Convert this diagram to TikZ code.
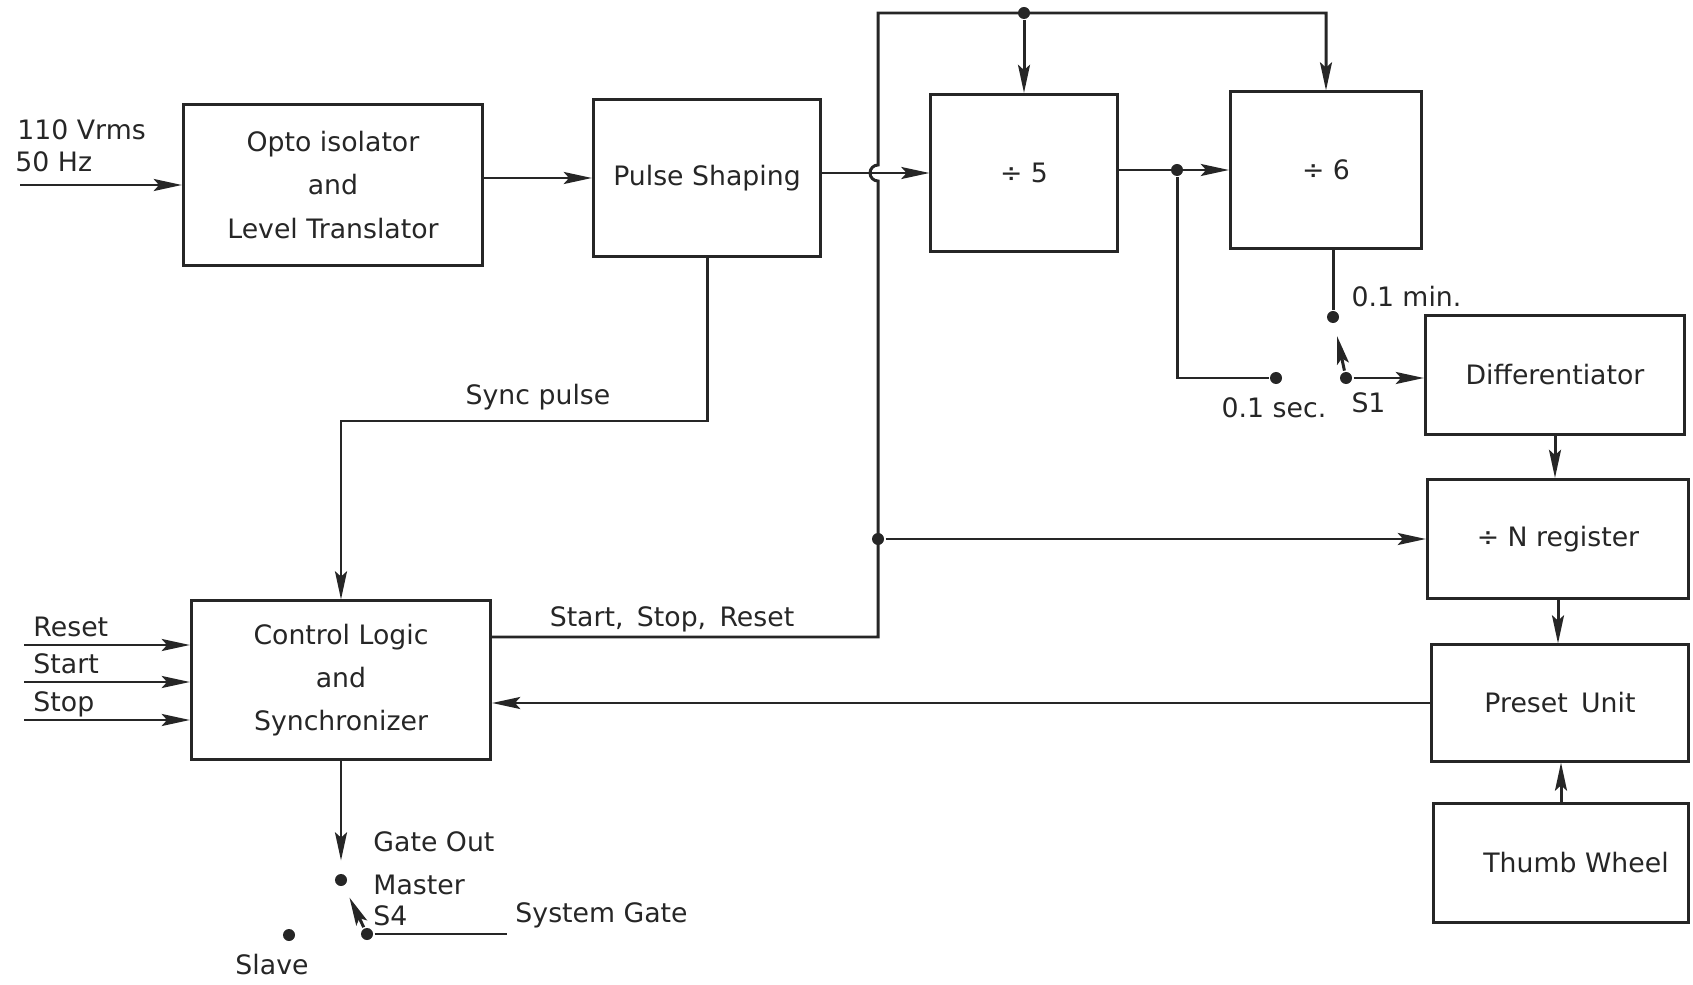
\documentclass[tikz,border=0pt]{standalone}
\usepackage{fontspec}
\setmainfont{DejaVu Sans}
\usetikzlibrary{arrows.meta, positioning, calc}

\tikzset{
	block/.style 2 args = {draw, rectangle, minimum width = #1, minimum height = #2, align = center, inner sep = 0pt},
	dot/.style = {circle, fill, inner sep = 0pt, minimum size = 1.2mm},
	lbl/.style = {inner sep = 0pt}
}

\begin{document}
\begin{tikzpicture}[->, > = {Stealth[length = 8pt, width = 3.4pt, inset = 1.5pt]}, x = 0.01cm, y = -0.01cm, line width = 0.85pt, color = black!85, font = \fontsize{7.6}{12.3}\selectfont]

\useasboundingbox (0,0) rectangle (1693,985);

% blocks
\node[block = {29.9mm}{16mm}]		(opto)		at (333,185)		{Opto isolator\\and\\Level Translator};
\node[block = {22.7mm}{15.7mm}]		(pulse)		at (707,178)		{Pulse Shaping};
\node[block = {18.6mm}{15.7mm}]		(div5)		at (1024,173)		{÷ 5};
\node[block = {19.1mm}{15.6mm}]		(div6)		at (1326,170)		{÷ 6};
\node[block = {25.9mm}{11.9mm}]		(diff)		at (1555,375)		{Differentiator};
\node[block = {26.1mm}{11.9mm}]		(nreg)		at (1558,539)		{÷ N register};
\node[block = {25.7mm}{11.6mm}]		(preset)	at (1560,703)		{Preset\enspace Unit};
\node[block = {25.5mm}{11.9mm}]		(thumb)		at (1561,863)		{\hspace*{3mm}Thumb Wheel};
\node[block = {29.9mm}{15.8mm}]		(control)	at (341,680)		{Control Logic\\and\\Synchronizer};

% junctions and switch contacts
\node[dot]	(tap)		at (1177,170)	{};
\node[dot]	(min)		at (1333,317)	{};
\node[dot]	(sec)		at (1276,378)	{};
\node[dot]	(s1)		at (1346,378)	{};
\node[dot]	(mst)		at (341,880)	{};
\node[dot]	(s4)		at (367,934)	{};
\node[dot]	(slave)		at (289,935)	{};
\coordinate	(ac)		at (20,185);
\coordinate	(ssr)		at (878,637);
\coordinate	(hop)		at (878,181);
\coordinate	(top)		at (878,13);
\coordinate	(sync)		at (341,421);
\coordinate	(gate)		at (507,934);
\node[dot]	(top5)		at (div5.north |- top)	{};
\node[dot]	(rdot)		at (ssr |- nreg)		{};

% main chain
\draw	(ac)			-- (opto.west);
\draw	(opto.east |- pulse)	-- (pulse.west);
\draw	(pulse.east |- div5)	-- (div5.west);
\draw	(div5.east |- div6)	-- (div6.west);
\draw	(pulse.south)		|- (sync) -- (control.north);

% start, stop, reset bus
\draw	(control.east |- ssr) -- (ssr) -- (hop) arc[start angle = 90, end angle = 270, radius = 8] -- (top) -| (div6.north);
\draw	(top5)			-- (div5.north);
\draw	(rdot)			-- (nreg.west);

% switch S1
\draw[-]	(div6.south -| min)	-- (min);
\draw[-]	(tap)			|- (sec);
\draw[shorten > = 1.2mm]	(s1)	-- (min);
\draw	(s1)			-- (s1 -| diff.west);

% right column
\draw	(diff.south)		-- (diff.south |- nreg.north);
\draw	(nreg.south)		-- (nreg.south |- preset.north);
\draw	(thumb.north)		-- (thumb.north |- preset.south);
\draw	(preset.west)		-- (preset.west -| control.east);

% control inputs
\foreach \name/\y in {Reset/645, Start/682, Stop/720} {
	\coordinate (\name) at (24,\y);
	\draw (\name) -- (\name -| control.west);
	\node[lbl, anchor = base west] at (32,\y-9) {\name};
}

% switch S4
\draw[shorten > = 1.2mm]	(control.south)	-- (mst);
\draw[shorten > = 1.2mm]	(s4)		-- (mst);
\draw[-]	(s4)			-- (gate);

% labels
\node[lbl, anchor = base west]	(vrms)	at (16,140)	{110 Vrms};
\node[lbl, anchor = base west]	(hz)	at (14,172)	{50 Hz};
\node[lbl]	(syncl)	at (538,397)	{Sync pulse};
\node[lbl]	(ssrl)	at (672,619)	{Start,\enspace Stop,\enspace Reset};
\node[lbl, anchor = west]	(minl)	at (1350,297)	{0.1 min.};
\node[lbl]	(secl)	at (1274,408)	{0.1 sec.};
\node[lbl, anchor = west]	(s1l)	at (1350,403)	{S1};
\node[lbl, anchor = west]	(gol)	at (372,842)	{Gate Out};
\node[lbl, anchor = west]	(msl)	at (372,885)	{Master};
\node[lbl, anchor = west]	(s4l)	at (372,916)	{S4};
\node[lbl, anchor = west]	(sgl)	at (514,915)	{System Gate};
\node[lbl]	(slavel)	at (272,965)	{Slave};

\end{tikzpicture}
\end{document}
